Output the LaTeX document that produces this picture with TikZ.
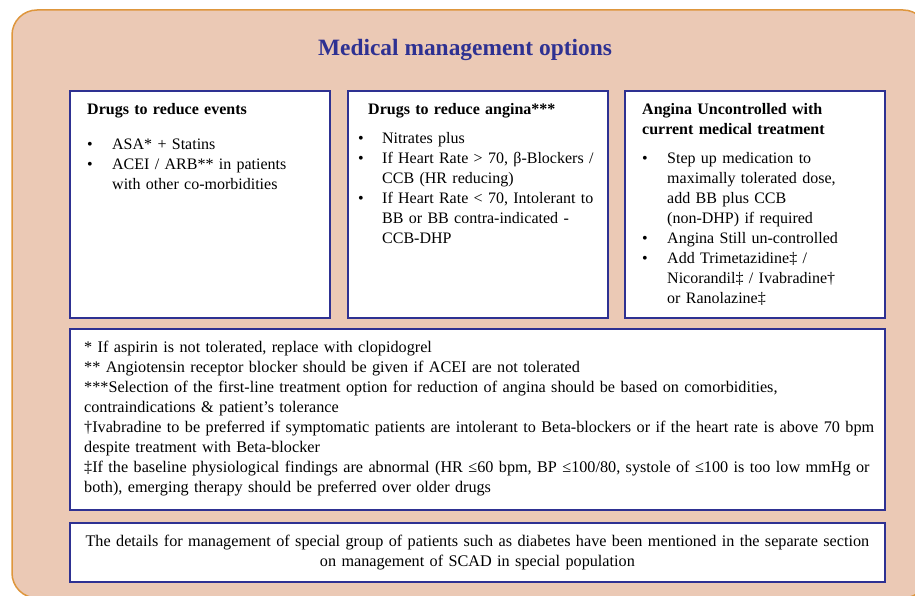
\documentclass[tikz,border=0pt]{standalone}
\usepackage{fontspec}
\setmainfont{Liberation Serif}
\usetikzlibrary{positioning}
\definecolor{peach}{RGB}{235,201,181}
\definecolor{ochre}{RGB}{222,150,60}
\definecolor{navy}{RGB}{46,49,146}
\newcommand{\bul}[1]{\makebox[#1][l]{\textbullet}}
\tikzset{
  optbox/.style={draw=navy, line width=1.8pt, fill=white, anchor=north west, inner sep=0pt},
  boxtext/.style={anchor=base west, inner sep=0pt, align=left, text width=#1, font=\fontsize{16}{20}\selectfont},
  boxtext/.default=250pt,
  notefont/.style={font=\fontsize{16.2}{20}\selectfont}
}
\begin{document}
\begin{tikzpicture}[x=1pt, y=-1pt]
  \clip (0,0) rectangle (915,596);
  \useasboundingbox (0,0) rectangle (915,596);
  % Hintergrund
  \draw [ochre, line width=1.5pt, fill=peach, rounded corners=25pt] (12,10) rectangle (928,598);
  \node [anchor=base, text=navy, font=\fontsize{23.4}{28}\selectfont\bfseries] (heading) at (465,55.5) {Medical management options};
  % Drei Spalten
  \node [optbox, minimum width=260pt, minimum height=227pt] (events) at (69,90) {};
  \node [optbox, minimum width=260pt, minimum height=227pt] (angina) at (347,90) {};
  \node [optbox, minimum width=260pt, minimum height=227pt] (uncontrolled) at (624,90) {};
  \node [boxtext] (eventstxt) at ([shift={(18pt,-24.5pt)}]events.north west) {\textbf{Drugs to reduce events}\\[15pt]
    \bul{25pt}ASA* + Statins\\
    \bul{25pt}ACEI / ARB** in patients\\
    \hspace*{25pt}with other co-morbidities};
  \node [boxtext] (anginatxt) at ([shift={(11pt,-24.5pt)}]angina.north west) {\hspace*{10pt}\textbf{Drugs to reduce angina***}\\[9pt]
    \bul{24pt}Nitrates plus\\
    \bul{24pt}If Heart Rate > 70, β-Blockers /\\
    \hspace*{24pt}CCB (HR reducing)\\
    \bul{24pt}If Heart Rate < 70, Intolerant to\\
    \hspace*{24pt}BB or BB contra-indicated -\\
    \hspace*{24pt}CCB-DHP};
  \node [boxtext] (uncontrolledtxt) at ([shift={(18pt,-24.5pt)}]uncontrolled.north west) {\textbf{Angina Uncontrolled with}\\
    \textbf{current medical treatment}\\[9pt]
    \bul{25pt}Step up medication to\\
    \hspace*{25pt}maximally tolerated dose,\\
    \hspace*{25pt}add BB plus CCB\\
    \hspace*{25pt}(non-DHP) if required\\
    \bul{25pt}Angina Still un-controlled\\
    \bul{25pt}Add Trimetazidine‡ /\\
    \hspace*{25pt}Nicorandil‡ / Ivabradine†\\
    \hspace*{25pt}or Ranolazine‡};
  % Fussnoten
  \node [optbox, minimum width=815pt, minimum height=181pt] (notes) at (69,328) {};
  \node [boxtext=830pt, notefont] (notestxt) at ([shift={(15pt,-24.5pt)}]notes.north west) {* If aspirin is not tolerated, replace with clopidogrel\\
    {}** Angiotensin receptor blocker should be given if ACEI are not tolerated\\
    {}***Selection of the first-line treatment option for reduction of angina should be based on comorbidities,\\
    contraindications \& patient’s tolerance\\
    †Ivabradine to be preferred if symptomatic patients are intolerant to Beta-blockers or if the heart rate is above 70 bpm\\
    despite treatment with Beta-blocker\\
    ‡If the baseline physiological findings are abnormal (HR ≤60 bpm, BP ≤100/80, systole of ≤100 is too low mmHg or\\
    both), emerging therapy should be preferred over older drugs};
  \node [optbox, minimum width=815pt, minimum height=59pt] (special) at (69,522) {};
  \node [boxtext=830pt, notefont, anchor=center, align=center] (specialtxt) at (special.center) {The details for management of special group of patients such as diabetes have been mentioned in the separate section\\
    on management of SCAD in special population};
\end{tikzpicture}
\end{document}
